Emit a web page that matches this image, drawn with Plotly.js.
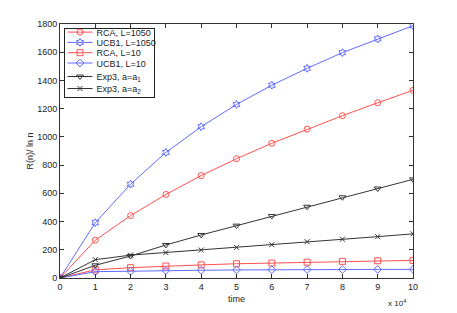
<!DOCTYPE html>
<html>
<head>
<meta charset="utf-8">
<script src="https://cdn.plot.ly/plotly-3.0.1.min.js"></script>
<style>html,body{margin:0;padding:0;background:#fff;}</style>
</head>
<body>
<div id="chart" style="width:457px;height:313px;"></div>
<script>
// time steps (units of 1e4)
const timeSteps = [0, 1, 2, 3, 4, 5, 6, 7, 8, 9, 10];
const rcaL1050  = [0, 268, 442, 592, 726, 845, 955, 1055, 1150, 1242, 1330];
const ucbL1050  = [0, 392, 665, 890, 1072, 1230, 1366, 1486, 1597, 1694, 1788];
const rcaL10    = [0, 58, 73, 85, 93, 101, 106, 112, 118, 122, 125];
const ucbL10    = [0, 45, 48, 53, 55, 57, 59, 60, 60, 61, 61];
const exp3a1    = [0, 90, 156, 234, 305, 371, 439, 505, 572, 634, 699];
const exp3a2    = [0, 130, 162, 180, 198, 217, 236, 257, 275, 293, 313];
const xTickVals = [0, 1, 2, 3, 4, 5, 6, 7, 8, 9, 10];
const xTickText = ['0', '1', '2', '3', '4', '5', '6', '7', '8', '9', '10'];
const yTickVals = [0, 200, 400, 600, 800, 1000, 1200, 1400, 1600, 1800];

const RED = '#ff5050', BLUE = '#5f6bff', BLACK = '#333333';
function tr(name, y, color, symbol, size) {
  return {
    x: timeSteps, y: y, name: name, type: 'scatter', mode: 'lines+markers',
    line: {color: color, width: 1},
    marker: {symbol: symbol, size: size, color: color, line: {color: color, width: 1}}
  };
}
const data = [
  tr('RCA, L=1050', rcaL1050, RED, 'circle-open', 6),
  tr('UCB1, L=1050', ucbL1050, BLUE, 'hexagram-open', 6),
  tr('RCA, L=10', rcaL10, RED, 'square-open', 6),
  tr('UCB1, L=10', ucbL10, BLUE, 'diamond-open', 6),
  tr('Exp3, a=a<sub>1</sub>', exp3a1, BLACK, 'triangle-down-open', 6),
  tr('Exp3, a=a<sub>2</sub>', exp3a2, BLACK, 'x-thin-open', 5)
];
const FAM = 'Liberation Sans, Arial, sans-serif';
const axFont = {family: FAM, size: 9, color: '#222'};
const layout = {
  width: 457, height: 313,
  margin: {l: 60, r: 44, t: 24, b: 35},
  paper_bgcolor: '#fff', plot_bgcolor: '#fff',
  font: axFont,
  showlegend: true,
  legend: {
    x: 3.5 / 353, y: 1 - 3.5 / 254, xanchor: 'left', yanchor: 'top',
    bgcolor: '#fff', bordercolor: '#222', borderwidth: 1,
    font: {family: FAM, size: 9, color: '#222'},
    tracegroupgap: 0, itemwidth: 30
  },
  xaxis: {
    range: [0, 10], tickvals: xTickVals, ticktext: xTickText,
    ticks: 'inside', ticklen: 4, tickcolor: '#333', mirror: 'ticks',
    showline: true, linecolor: '#333', linewidth: 1, showgrid: false, zeroline: false,
    tickfont: axFont,
    title: {text: 'time', font: axFont, standoff: 4}
  },
  yaxis: {
    range: [0, 1800], tickvals: yTickVals,
    ticks: 'inside', ticklen: 4, tickcolor: '#333', mirror: 'ticks',
    showline: true, linecolor: '#333', linewidth: 1, showgrid: false, zeroline: false,
    tickfont: axFont,
    title: {text: 'R(n)/ ln n', font: axFont, standoff: 2}
  },
  annotations: [{
    xref: 'paper', yref: 'paper', x: 0.955, y: -0.07, xanchor: 'center', yanchor: 'top',
    text: 'x 10<sup>4</sup>', showarrow: false, font: {family: FAM, size: 8, color: '#222'}
  }]
};
Plotly.newPlot('chart', data, layout, {displayModeBar: false, staticPlot: true}).then(function (gd) {
  // compact the legend to match the reference's tight row spacing
  const leg = gd.querySelector('.legend');
  if (!leg) return;
  const rows = [4.6, 14.9, 25.2, 35.5, 49.0, 61.0];
  const legW = 90, legH = 69.5;
  leg.querySelectorAll('.traces').forEach(function (t, i) {
    t.setAttribute('transform', 'translate(1,' + rows[i] + ')');
    t.querySelectorAll('.legendlines path').forEach(function (p) { p.setAttribute('d', 'M3,0h25'); });
    t.querySelectorAll('.legendpoints path').forEach(function (p) {
      p.setAttribute('transform', 'translate(15.5,0)');
    });
    const txt = t.querySelector('text.legendtext');
    if (txt) txt.setAttribute('x', '32');
    t.querySelectorAll('text.legendtext tspan[x]').forEach(function (s) { s.setAttribute('x', '32'); });
    const bgr = t.querySelector('rect.legendtoggle');
    if (bgr) bgr.setAttribute('width', '80');
  });
  leg.querySelectorAll('rect.bg').forEach(function (r) {
    r.setAttribute('width', legW); r.setAttribute('height', legH);
  });
  leg.querySelectorAll('.scrollbox').forEach(function (s) { s.removeAttribute('clip-path'); });
  leg.querySelectorAll('.scrollbar').forEach(function (s) { s.style.display = 'none'; });
});
</script>
</body>
</html>
